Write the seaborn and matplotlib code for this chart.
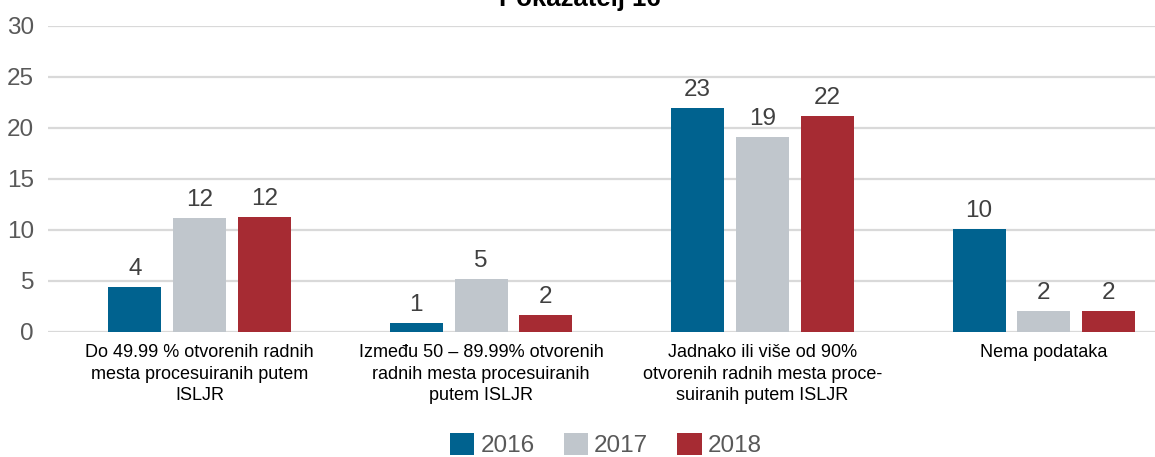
import pandas as pd
import matplotlib.pyplot as plt
import seaborn as sns
from matplotlib.patches import Patch

# Podaci
categories = [
    "Do 49.99 % otvorenih radnih\nmesta procesuiranih putem\nISLJR",
    "Između 50 – 89.99% otvorenih\nradnih mesta procesuiranih\nputem ISLJR",
    "Jadnako ili više od 90%\notvorenih radnih mesta proce-\nsuiranih putem ISLJR",
    "Nema podataka",
]
years = ["2016", "2017", "2018"]
# visine stubova kako su nacrtane
heights_2016 = [4.38, 0.85, 21.93, 10.07]
heights_2017 = [11.15, 5.16, 19.08, 2.03]
heights_2018 = [11.25, 1.64, 21.15, 2.03]
# oznake iznad stubova
labels_2016 = ["4", "1", "23", "10"]
labels_2017 = ["12", "5", "19", "2"]
labels_2018 = ["12", "2", "22", "2"]

colors = ["#00628F", "#C0C6CC", "#A62B33"]

df = pd.DataFrame({
    "kategorija": categories * 3,
    "godina": [y for y in years for _ in categories],
    "vrednost": heights_2016 + heights_2017 + heights_2018,
})
all_labels = [labels_2016, labels_2017, labels_2018]

sns.set_style("white")
plt.rcParams["font.family"] = ["Liberation Sans", "DejaVu Sans"]

fig = plt.figure(figsize=(11.55, 4.57), dpi=100)
ax = fig.add_axes([48 / 1155, 1 - 331.7 / 457, 1 - 48 / 1155, (331.7 - 25.7) / 457])

sns.barplot(
    data=df, x="kategorija", y="vrednost", hue="godina",
    palette=colors, width=0.69, gap=0.18, saturation=1,
    linewidth=0, legend=False, ax=ax,
)

# Oznake vrednosti
for cont, labs in zip(ax.containers, all_labels):
    ax.bar_label(cont, labels=labs, padding=5, fontsize=17.5, color="#404040")

ax.set_ylim(0, 30)
ax.set_xlim(-0.539, 3.395)
ax.set_yticks(range(0, 31, 5))
ax.yaxis.grid(True, color="#D9D9D9", linewidth=1.6)
ax.set_axisbelow(True)
for s in ax.spines.values():
    s.set_visible(False)
ax.set_xlabel("")
ax.set_ylabel("")
ax.tick_params(axis="y", length=0, pad=10, labelsize=17.5, labelcolor="#595959")
ax.tick_params(axis="x", length=0, pad=9, labelsize=13, labelcolor="#000000")
for t in ax.get_xticklabels():
    t.set_linespacing(1.35)

# Naslov (odsečen na vrhu)
fig.text(0.502, 1 - 6 / 457, "Pokazatelj 16", ha="center", va="baseline",
         fontsize=18.5, fontweight="bold", color="#000000")

# Legenda
handles = [Patch(facecolor=c, edgecolor="none") for c in colors]
fig.legend(handles, years, loc="center", bbox_to_anchor=(606 / 1155, 1 - 445 / 457),
           ncol=3, frameon=False, fontsize=17.5, handlelength=1.0, handleheight=1.0,
           handletextpad=0.25, columnspacing=1.2, labelcolor="#595959",
           borderaxespad=0, borderpad=0)

fig.savefig("out.png", dpi=100)
plt.close(fig)
